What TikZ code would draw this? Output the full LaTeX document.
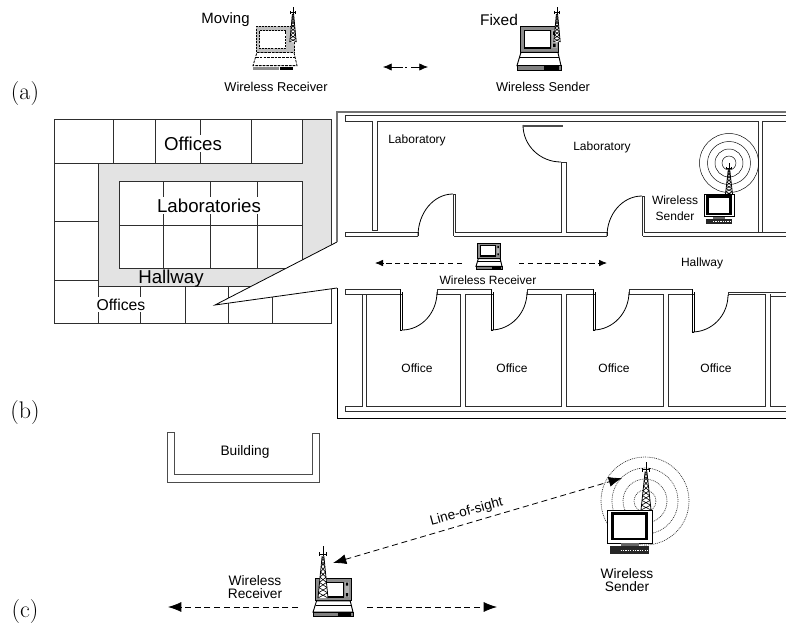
\documentclass[tikz,border=0pt]{standalone}
\usepackage{fontspec}
\setsansfont{Liberation Sans}
\usetikzlibrary{arrows.meta,calc}
\definecolor{hall}{gray}{0.89}
\definecolor{ln}{gray}{0.18}
\newcommand{\lsize}[1]{\fontsize{#1}{#1}\selectfont\sffamily}
\tikzset{
  wall/.style={draw=ln,line width=0.7pt},
  plan/.style={draw=ln,line width=0.75pt},
  door/.style={draw=black,line width=0.6pt},
  small/.style={font=\lsize{9}},
  mid/.style={font=\lsize{9.6}},
  big/.style={font=\lsize{14},fill=white,inner sep=1pt},
  sub/.style={font=\fontsize{18}{18}\selectfont\rmfamily},
  flow/.style={draw=black,line width=0.6pt,dash pattern=on 4pt off 2.6pt,-{Latex[length=6pt,width=5pt]}},
  bigflow/.style={draw=black,line width=0.6pt,dash pattern=on 4.5pt off 2.8pt,-{Latex[length=10pt,width=7.5pt]}},
  ring/.style={draw=black,line width=0.35pt},
  dotring/.style={draw=black!80,line width=0.5pt,dash pattern=on 0.7pt off 0.7pt},
}
% \towerdraw{x}{ytop}{ybottom}{halfwidth}
\newcommand{\towerdraw}[4]{%
  \begin{scope}[shift={(#1,#2)},x={(#4*1,0)},y={(0,#3-#2)}]
    \draw[black,line width=0.6pt] (0,0)--(0,0.22);
    \draw[black,line width=0.6pt] (-0.7,0.16)--(0.7,0.16);
    \draw[black,line width=0.4pt] (-0.7,0.12)--(-0.7,0.2) (0.7,0.12)--(0.7,0.2);
    \fill[white] (-0.18,0.2)--(0.18,0.2)--(1,1)--(-1,1)--cycle;
    \draw[black,line width=0.6pt] (-0.18,0.2)--(-1,1) (0.18,0.2)--(1,1);
    \foreach \a/\b in {0.2/0.3,0.3/0.4,0.4/0.5,0.5/0.6,0.6/0.7,0.7/0.8,0.8/0.9,0.9/1}{
      \draw[black,line width=0.45pt] ({-0.18-0.82*(\a-0.2)/0.8},\a)--({0.18+0.82*(\b-0.2)/0.8},\b)
        ({0.18+0.82*(\a-0.2)/0.8},\a)--({-0.18-0.82*(\b-0.2)/0.8},\b);
    }
  \end{scope}}
% \laptopdraw{left}{top}{width}{height}
\newcommand{\laptopdraw}[4]{%
  \begin{scope}[shift={(#1,#2)},x={(#3*1,0)},y={(0,#4*1)}]
    \filldraw[fill=black!45,draw=black,line width=0.7pt] (0.07,0)--(0.95,0)--(0.95,0.6)--(0.07,0.6)--cycle;
    \filldraw[fill=white,draw=black,line width=0.9pt] (0.17,0.11)--(0.76,0.11)--(0.76,0.5)--(0.17,0.5)--cycle;
    \fill[black!30] (0.8,0.1) rectangle (0.9,0.5);
    \fill[black] (0.82,0.12) rectangle (0.88,0.2) (0.82,0.4) rectangle (0.88,0.48);
    \filldraw[fill=white,draw=black,line width=0.7pt] (0.09,0.6)--(0.93,0.6)--(1,0.9)--(0,0.9)--cycle;
    \draw[black,line width=0.6pt] (0.07,0.72)--(0.95,0.72);
    \filldraw[fill=black!50,draw=black,line width=0.5pt] (0,0.9) rectangle (1,1);
    \fill[black] (0.62,0.92) rectangle (0.95,1);
  \end{scope}}
% moving laptop, broken outline
\newcommand{\movinglaptop}[4]{%
  \begin{scope}[shift={(#1,#2)},x={(#3*1,0)},y={(0,#4*1)}]
    \filldraw[fill=black!25,draw=black,line width=0.7pt,dash pattern=on 1.5pt off 0.8pt] (0.07,0)--(0.95,0)--(0.95,0.6)--(0.07,0.6)--cycle;
    \filldraw[fill=white,draw=black,line width=0.7pt,dash pattern=on 1.5pt off 0.8pt] (0.15,0.11)--(0.74,0.11)--(0.74,0.5)--(0.15,0.5)--cycle;
    \filldraw[fill=white,draw=black,line width=0.6pt,dash pattern=on 2pt off 0.8pt] (0.09,0.6)--(0.93,0.6)--(1,0.9)--(0,0.9)--cycle;
    \draw[black,line width=0.6pt,dash pattern=on 2pt off 0.8pt] (0.07,0.72)--(0.95,0.72);
    \fill[black!45] (0,0.94) rectangle (0.6,1);
    \fill[black] (0.62,0.93) rectangle (0.9,1);
  \end{scope}}
% \desktopdraw{left}{top}{width}{height}
\newcommand{\desktopdraw}[4]{%
  \begin{scope}[shift={(#1,#2)},x={(#3*1,0)},y={(0,#4*1)}]
    \filldraw[fill=white,draw=black,line width=0.5pt] (0,0) rectangle (1,0.75);
    \filldraw[fill=white,draw=black,line width=1.9pt] (0.12,0.08) rectangle (0.88,0.66);
    \fill[black!60] (0.3,0.76) rectangle (0.7,0.82);
    \fill[black!85] (0.06,0.82) rectangle (0.94,1);
    \draw[white,line width=0.8pt,dash pattern=on 1pt off 0.8pt] (0.3,0.92)--(0.92,0.92);
  \end{scope}}
\begin{document}
\begin{tikzpicture}[x=0.75pt,y=-0.75pt]
\useasboundingbox (0,0) rectangle (786,633);
\begin{scope}
\clip (0,0) rectangle (786,633);

% ---------- (a)
\movinglaptop{253}{26}{44}{44}
\towerdraw{293}{7}{42}{3.2}
\laptopdraw{517}{26}{44}{44}
\towerdraw{557}{7}{42}{3.2}
\node[font=\lsize{11.2}] (moving) at (225.5,20) {Moving};
\node[font=\lsize{11.6}] (fixed) at (499,20) {Fixed};
\node[mid] (rxa) at (276,87) {Wireless Receiver};
\node[mid] (txa) at (543,87) {Wireless Sender};
\coordinate (al) at (403,67);
\coordinate (alt) at (383,67);
\coordinate (ar) at (411,67);
\coordinate (art) at (428,67);
\coordinate (adot1) at (405,67);
\coordinate (adot2) at (407,67);
\draw[black,line width=0.6pt,-{Latex[length=6.5pt,width=5.5pt]}] (al)--(alt);
\draw[black,line width=0.6pt,-{Latex[length=6.5pt,width=5.5pt]}] (ar)--(art);
\draw[black,line width=0.5pt] (adot1)--(adot2);
\node[sub] (la) at (25,94) {(a)};

% ---------- (b) overview
\fill[hall] (98,163)--(302,163)--(302,119)--(331,119)--(331,246)--(252,286)--(98,286)--cycle;
\draw[plan] (54,119) rectangle (331,323);
\draw[plan] (54,163)--(302,163)--(302,119);
\draw[plan] (113,119)--(113,163) (155,119)--(155,163) (200,119)--(200,163) (251,119)--(251,163);
\draw[plan] (98,163)--(98,323);
\draw[plan] (54,221)--(98,221) (54,280)--(98,280);
\draw[plan] (98,286)--(331,286);
\draw[plan] (140,286)--(140,323) (185,286)--(185,323) (228,286)--(228,323) (272,286)--(272,323);
\filldraw[fill=white,draw=ln,line width=0.75pt] (119,181) rectangle (302,268);
\draw[plan] (119,225)--(302,225);
\draw[plan] (163,181)--(163,268) (210,181)--(210,268) (257,181)--(257,268);
% callout wedge
\coordinate (wtip) at (215,305);
\coordinate (wtop) at (337,242);
\coordinate (wbot) at (337,288);
\fill[white] (wtip)--(wtop)--(wbot)--cycle;
\fill[white] (331,246)--(340,246)--(340,288)--(331,288)--cycle;
\draw[black,line width=0.6pt] (wtop)--(wtip)--(wbot);
\node[big] (off1) at (193,143.5) {Offices};
\node[big] (labs) at (209,205.5) {Laboratories};
\node[font=\lsize{14},inner sep=0pt] (hallw) at (171,279) {Hallway};
\node[font=\lsize{11.8},fill=white,inner sep=1pt] (off2) at (121,304.5) {Offices};
\node[sub] (lb) at (25,413) {(b)};

% ---------- (b) detail plan
\draw[draw=black!55,line width=1.1pt] (337,242)--(337,112)--(786,112);
\draw[draw=black,line width=0.6pt] (337,288)--(337,418)--(786,418);
% top wall
\draw[wall] (786,115)--(345,115)--(345,121)--(372,121)--(372,230)--(377,230)--(377,121)--(758,121)--(758,232);
\draw[wall] (762,232)--(762,121)--(786,121);
% lab bottom wall
\draw[wall] (418,232)--(345,232)--(345,236)--(418,236);
\draw[wall] (453,194)--(453,232) ;
\draw[wall] (455,194)--(455,232)--(561,232)--(561,162)--(566,162)--(566,232)--(607,232);
\draw[wall] (454,236)--(607,236);
\draw[wall] (642,196)--(642,236) (644,196)--(644,232)--(786,232);
\draw[wall] (643,236)--(786,236);
\draw[wall] (453,194)--(455,194) (642,196)--(644,196);
\draw[wall] (418,232)--(418,236) (607,232)--(607,236) (453,232)--(453,236);
\draw[door] (418,236) arc[start angle=180,end angle=90,x radius=35,y radius=-42];
\draw[door] (607,236) arc[start angle=180,end angle=90,x radius=35,y radius=-40];
\draw[door] (523,125) arc[start angle=180,end angle=270,x radius=38,y radius=-37];
\fill[black!70] (523,124.5) rectangle (563,126.8);
% office walls
\foreach \l/\r in {366/460,465/561,566/663,668/765}{
  \draw[wall] (\l,294) rectangle (\r,406);
}
\draw[wall] (770,294)--(770,406)--(786,406);
\draw[wall] (770,296)--(786,296);
\draw[wall] (362,294)--(362,406)--(345,406)--(345,411)--(786,411);
\draw[wall] (400,289)--(345,289)--(345,294)--(362,294);
\draw[wall] (437,289)--(491,289) (527,289)--(593,289) (629,289)--(692,289) (728,292)--(786,292);
\foreach \d/\e/\b in {402/437/330,493/527/330,595/629/330,694/728/332}{
  \fill[white] (\d,287) rectangle (\e,297);
  \draw[door] (\d,\b)--(\d,292);
  \draw[door] (\d-2,\b)--(\d-2,289);
}
\draw[door] (402,330) arc[start angle=270,end angle=360,x radius=35,y radius=-38];
\draw[door] (491,330) arc[start angle=270,end angle=360,x radius=36,y radius=-38];
\draw[door] (593,330) arc[start angle=270,end angle=360,x radius=36,y radius=-38];
\draw[door] (692,332) arc[start angle=270,end angle=360,x radius=36,y radius=-37];
\draw[door] (400,330)--(402,330) (491,330)--(493,330) (593,330)--(595,330) (692,332)--(694,332);
\draw[wall] (437,289)--(437,294) (527,289)--(527,294) (629,289)--(629,294) (728,292)--(728,296);
\draw[wall] (400,294)--(362,294);
\node[small] (lab1) at (417,140) {Laboratory};
\node[small] (lab2) at (602,147) {Laboratory};
\foreach \o/\n in {417/of1,512/of2,614/of3,716/of4}{
  \node[small] (\n) at (\o,368) {Office};
}
\node[small] (hw) at (702,263) {Hallway};
\node[small] (rxb) at (488,280) {Wireless Receiver};
\node[small,align=center] (txb) at (675,208) {Wireless\\[2.6pt]Sender};
\laptopdraw{476}{243}{26}{26}
% sender in lab
\foreach \r in {29.5,21.5,14,7}{ \draw[ring] (729,163) circle[radius=\r]; }
\towerdraw{729}{163}{195}{3.6}
\desktopdraw{704}{194}{30}{30}
\coordinate (bl1) at (462,263);
\coordinate (bl2) at (375,263);
\coordinate (br1) at (519,263);
\coordinate (br2) at (607,263);
\draw[flow] (bl1)--(bl2);
\draw[flow] (br1)--(br2);

% ---------- (c)
\draw[line width=0.7pt,draw=black!70] (167,432)--(174,432)--(174,474)--(312,474)--(312,433)--(319,433)--(319,482)--(167,482)--cycle;
\node[font=\lsize{10.3}] (bld) at (245,452) {Building};
\foreach \r in {44,33,22,11}{ \draw[dotring] (645,501) circle[radius=\r]; }
\towerdraw{646}{462}{510}{5}
\desktopdraw{607}{510}{45}{44}
\node[font=\lsize{10.3},align=center] (txc) at (627,580) {Wireless\\[-0.5pt]Sender};
\laptopdraw{313}{578}{40}{38}
\towerdraw{323}{546}{598}{5}
\node[font=\lsize{10.3},align=center] (rxc) at (255,587.5) {Wireless\\[-0.5pt]Receiver};
\coordinate (los1) at (333,563);
\coordinate (los2) at (622,478);
\draw[bigflow,{Latex[length=10pt,width=7.5pt]}-{Latex[length=10pt,width=7.5pt]}] (los1)--(los2);
\node[font=\lsize{10.2},rotate=15] (los) at (466.5,512) {Line-of-sight};
\coordinate (cl1) at (298,607);
\coordinate (cl2) at (168,607);
\coordinate (cr1) at (367,607);
\coordinate (cr2) at (497,607);
\draw[bigflow] (cl1)--(cl2);
\draw[bigflow] (cr1)--(cr2);
\node[sub] (lc) at (25,612) {(c)};
\end{scope}
\end{tikzpicture}
\end{document}
